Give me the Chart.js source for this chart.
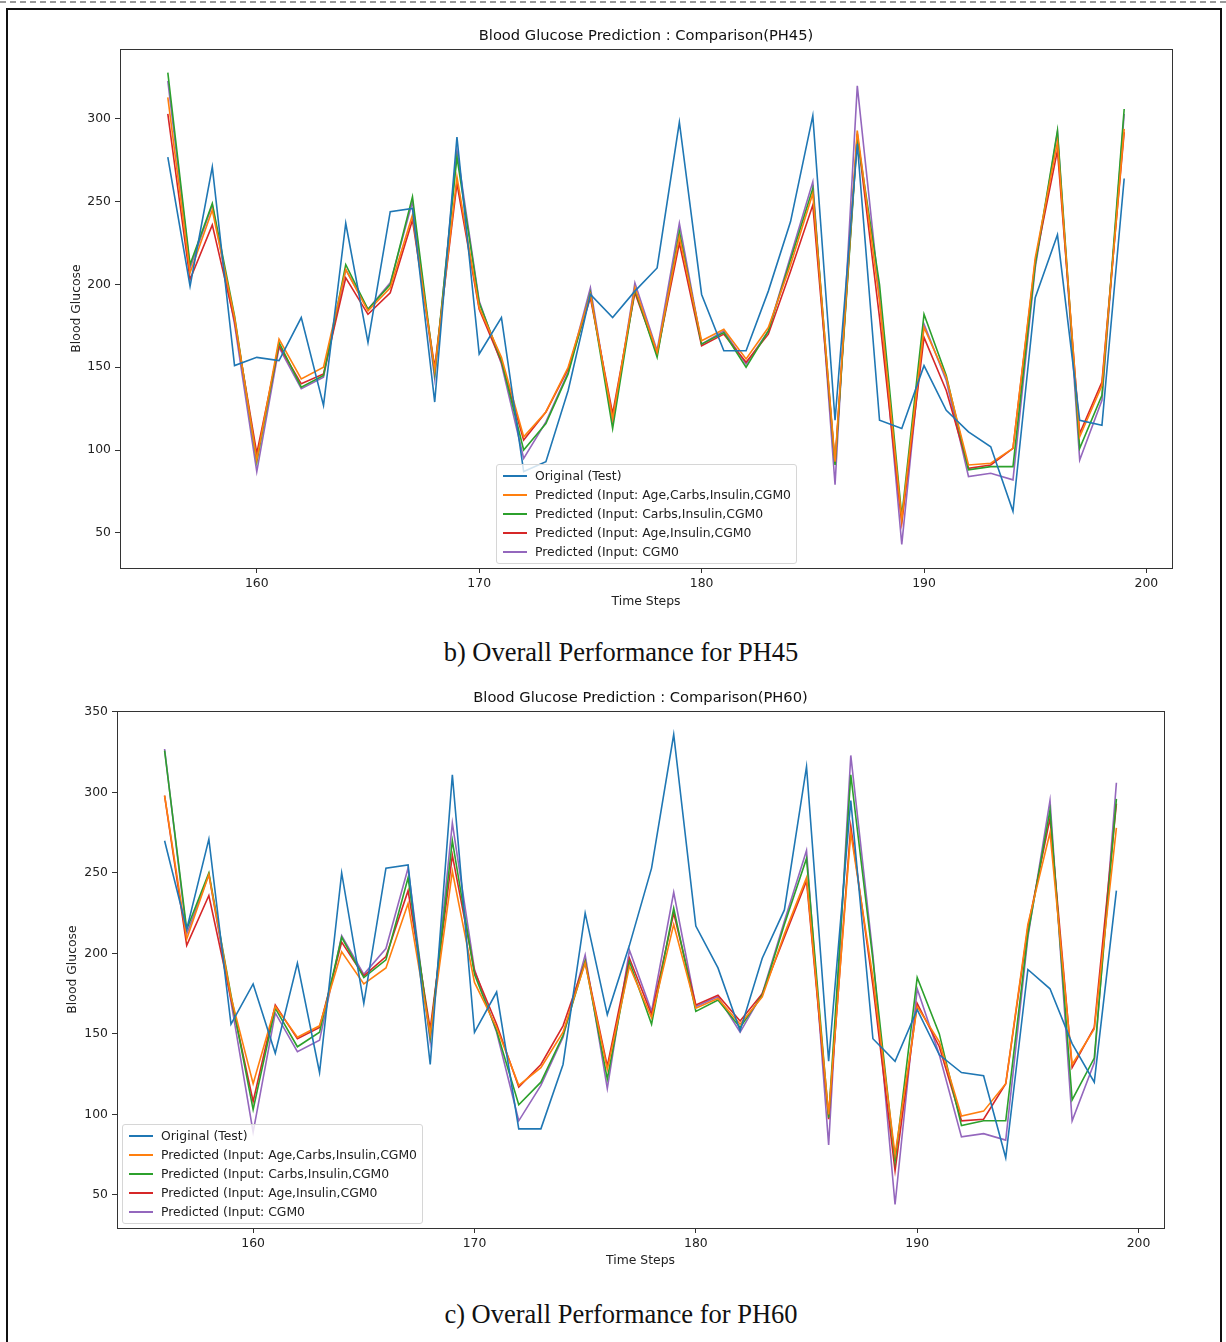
<!DOCTYPE html>
<html>
<head>
<meta charset="utf-8">
<title>Blood Glucose Prediction</title>
<script src="https://cdn.jsdelivr.net/npm/chart.js@4.4.1/dist/chart.umd.min.js"></script>
<style>
  html, body { margin: 0; padding: 0; background: #fff; }
  body { width: 1226px; height: 1342px; position: relative; overflow: hidden; font-family: "DejaVu Sans", sans-serif; }
  .dash { position: absolute; left: 0; top: 1px; width: 1226px; border-top: 2px dashed #9a9a9a; }
  .frame { position: absolute; left: 6px; top: 8px; width: 1212px; height: 1400px; border: 2px solid #111; border-bottom: none; }
  canvas { position: absolute; left: 0; }
  #chart45 { top: 20px; }
  #chart60 { top: 682px; }
  .caption { position: absolute; left: 0; width: 1242px; text-align: center; font-family: "Liberation Serif", "Times New Roman", serif; font-size: 26.5px; color: #111; }
  .legend { position: absolute; border: 1px solid #d6d6d6; border-radius: 3px; background: rgba(255,255,255,0.8); padding: 1px 5px 2px 6px; font-size: 12.4px; color: #222; }
  .legend .item { display: flex; align-items: center; height: 19px; white-space: nowrap; }
  .legend .swatch { width: 24px; height: 2px; margin-right: 8px; flex: none; }
</style>
</head>
<body>
<div class="dash"></div>
<div class="frame"></div>

<canvas id="chart45" width="1226" height="592"></canvas>
<div class="legend" id="legend45" style="left:496px; top:464px;"></div>
<div class="caption" style="top:637px;">b) Overall Performance for PH45</div>

<canvas id="chart60" width="1226" height="589"></canvas>
<div class="legend" id="legend60" style="left:122px; top:1124px;"></div>
<div class="caption" style="top:1299px;">c) Overall Performance for PH60</div>

<script>
// ── Data ─────────────────────────────────────────────────────
const TIME_STEPS = [156, 157, 158, 159, 160, 161, 162, 163, 164, 165, 166, 167, 168, 169, 170,
  171, 172, 173, 174, 175, 176, 177, 178, 179, 180, 181, 182, 183, 184, 185, 186, 187, 188,
  189, 190, 191, 192, 193, 194, 195, 196, 197, 198, 199];

const SERIES_LABELS = [
  'Original (Test)',
  'Predicted (Input: Age,Carbs,Insulin,CGM0',
  'Predicted (Input: Carbs,Insulin,CGM0',
  'Predicted (Input: Age,Insulin,CGM0',
  'Predicted (Input: CGM0',
];
const SERIES_COLORS = ['#1f77b4', '#ff7f0e', '#2ca02c', '#d62728', '#9467bd'];

const X_TICKS = [160, 170, 180, 190, 200];
const Y_TICKS_PH45 = [50, 100, 150, 200, 250, 300];
const Y_TICKS_PH60 = [50, 100, 150, 200, 250, 300, 350];

// PH45
const ph45Original = [277, 199, 271, 151, 156, 154, 180, 127, 237, 165, 244, 246, 129, 289, 158,
  180, 87, 93, 136, 194, 180, 196, 210, 298, 194, 160, 160, 196, 238, 302, 118, 285, 118,
  113, 151, 124, 111, 102, 63, 192, 230, 118, 115, 264];
const ph45AgeCarbsIns = [313, 207, 245, 180, 94, 167, 143, 150, 209, 184, 198, 242, 148, 265, 186,
  156, 108, 123, 150, 194, 119, 198, 159, 229, 166, 173, 155, 174, 212, 255, 93, 293, 190,
  58, 174, 144, 91, 92, 101, 216, 286, 108, 139, 294];
const ph45CarbsIns = [328, 212, 249, 181, 93, 165, 138, 145, 212, 185, 200, 253, 146, 277, 189,
  154, 100, 116, 146, 195, 113, 197, 156, 232, 164, 171, 150, 172, 215, 258, 91, 289, 200,
  60, 182, 145, 88, 90, 90, 212, 293, 101, 133, 306];
const ph45AgeIns = [303, 203, 236, 178, 98, 163, 140, 146, 204, 182, 195, 239, 150, 261, 185,
  153, 106, 123, 149, 192, 122, 195, 158, 225, 163, 170, 153, 170, 208, 248, 92, 291, 180,
  56, 168, 136, 89, 91, 101, 214, 281, 110, 141, 292];
const ph45Cgm = [323, 210, 248, 176, 87, 162, 137, 144, 209, 185, 201, 250, 143, 281, 190,
  152, 95, 117, 147, 198, 116, 201, 160, 237, 164, 172, 152, 172, 217, 262, 79, 320, 193,
  43, 176, 142, 84, 86, 82, 210, 292, 94, 130, 303];

// PH60
const ph60Original = [270, 215, 271, 156, 181, 138, 194, 126, 250, 169, 253, 255, 131, 311, 151,
  176, 91, 91, 131, 225, 162, 205, 253, 336, 217, 191, 152, 197, 227, 316, 133, 295, 147,
  133, 165, 137, 126, 124, 73, 190, 178, 144, 120, 239];
const ph60AgeCarbsIns = [298, 209, 249, 173, 119, 167, 148, 155, 201, 181, 191, 231, 150, 251, 182,
  154, 118, 129, 151, 194, 128, 192, 160, 218, 166, 172, 156, 173, 212, 247, 100, 275, 185,
  75, 167, 145, 99, 102, 119, 218, 275, 131, 153, 278];
const ph60CarbsIns = [326, 215, 250, 174, 103, 166, 142, 151, 210, 185, 196, 247, 148, 270, 187,
  152, 106, 120, 149, 195, 122, 195, 156, 228, 164, 171, 154, 174, 218, 259, 98, 311, 196,
  71, 185, 150, 93, 96, 96, 212, 289, 109, 135, 296];
const ph60AgeIns = [298, 205, 236, 172, 108, 168, 147, 154, 207, 186, 198, 239, 153, 261, 189,
  156, 117, 131, 155, 195, 130, 197, 162, 225, 168, 174, 158, 175, 210, 245, 97, 279, 180,
  65, 169, 142, 96, 97, 119, 216, 284, 129, 154, 293];
const ph60Cgm = [327, 212, 249, 170, 89, 163, 139, 146, 211, 187, 203, 253, 145, 281, 190,
  151, 96, 118, 148, 199, 116, 202, 164, 238, 167, 173, 151, 175, 220, 264, 81, 323, 199,
  44, 178, 137, 86, 88, 84, 210, 295, 96, 132, 306];

// ── Helpers ──────────────────────────────────────────────────
// matplotlib-style 5% margins around the data
function paddedRange(values) {
  const lo = Math.min(...values);
  const hi = Math.max(...values);
  const pad = (hi - lo) * 0.05;
  return { min: lo - pad, max: hi + pad };
}

// closed axes box + title centred over the plot area (matplotlib style)
const framePlugin = {
  id: 'frame',
  afterDraw(chart, args, opts) {
    const { ctx, chartArea: a } = chart;
    ctx.save();
    ctx.strokeStyle = '#333';
    ctx.lineWidth = 1;
    ctx.strokeRect(Math.round(a.left) + 0.5, Math.round(a.top) + 0.5,
      Math.round(a.right - a.left), Math.round(a.bottom - a.top));
    if (opts.title) {
      ctx.fillStyle = '#111';
      ctx.font = '14.7px "DejaVu Sans"';
      ctx.textAlign = 'center';
      ctx.textBaseline = 'middle';
      ctx.fillText(opts.title, (a.left + a.right) / 2, a.top - 13);
    }
    ctx.restore();
  },
};

function buildLegend(el) {
  el.innerHTML = SERIES_LABELS.map((label, i) =>
    `<div class="item"><span class="swatch" style="background:${SERIES_COLORS[i]}"></span>${label}</div>`
  ).join('');
}

function makeChart(canvasId, title, seriesList, yTicks, pad) {
  const xr = paddedRange(TIME_STEPS);
  const yr = paddedRange(seriesList.flat());
  const tickFont = { family: 'DejaVu Sans', size: 12.4 };

  return new Chart(document.getElementById(canvasId), {
    type: 'line',
    data: {
      datasets: seriesList.map((values, i) => ({
        label: SERIES_LABELS[i],
        data: TIME_STEPS.map((t, j) => ({ x: t, y: values[j] })),
        borderColor: SERIES_COLORS[i],
        backgroundColor: SERIES_COLORS[i],
        borderWidth: 1.6,
        pointRadius: 0,
        tension: 0,
      })),
    },
    options: {
      responsive: false,
      animation: false,
      layout: { padding: { left: pad.left, right: pad.right, top: 29, bottom: 0 } },
      plugins: {
        legend: { display: false },
        tooltip: { enabled: false },
        frame: { title },
      },
      scales: {
        x: {
          type: 'linear',
          min: xr.min,
          max: xr.max,
          afterBuildTicks: (s) => { s.ticks = X_TICKS.map(v => ({ value: v })); },
          afterFit: (s) => { s.height = pad.xAxis; },
          grid: { drawOnChartArea: false, drawTicks: true, tickLength: 5, color: '#333' },
          border: { display: false },
          ticks: { color: '#222', font: tickFont, padding: 3, maxRotation: 0 },
          title: { display: true, text: 'Time Steps', color: '#222', font: tickFont, padding: { top: 2, bottom: 3 } },
        },
        y: {
          min: yr.min,
          max: yr.max,
          afterBuildTicks: (s) => { s.ticks = yTicks.map(v => ({ value: v })); },
          afterFit: (s) => { s.width = pad.yAxis; },
          grid: { drawOnChartArea: false, drawTicks: true, tickLength: 5, color: '#333' },
          border: { display: false },
          ticks: { color: '#222', font: tickFont, padding: 4 },
          title: { display: true, text: 'Blood Glucose', color: '#222', font: tickFont, padding: { top: 4, bottom: 4 } },
        },
      },
    },
    plugins: [framePlugin],
  });
}

// ── Render ───────────────────────────────────────────────────
makeChart('chart45', 'Blood Glucose Prediction : Comparison(PH45)',
  [ph45Original, ph45AgeCarbsIns, ph45CarbsIns, ph45AgeIns, ph45Cgm],
  Y_TICKS_PH45, { left: 65, yAxis: 55, right: 54, xAxis: 44 });

makeChart('chart60', 'Blood Glucose Prediction : Comparison(PH60)',
  [ph60Original, ph60AgeCarbsIns, ph60CarbsIns, ph60AgeIns, ph60Cgm],
  Y_TICKS_PH60, { left: 61, yAxis: 56, right: 62, xAxis: 43 });

buildLegend(document.getElementById('legend45'));
buildLegend(document.getElementById('legend60'));
</script>
</body>
</html>
